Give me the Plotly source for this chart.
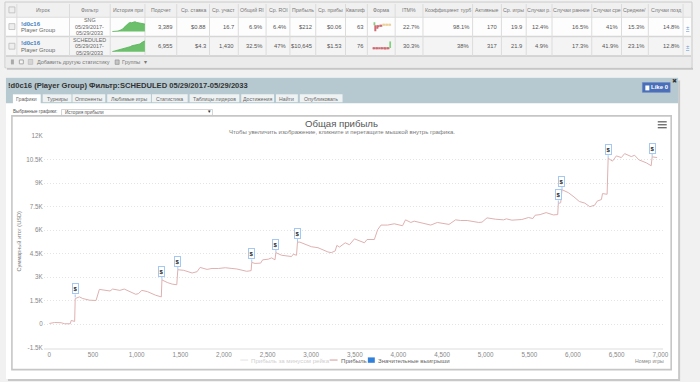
import plotly.graph_objects as go

# ---------- data ----------
games = [0,60,135,175,240,250,290,296,345,383,460,535,573,650,695,725,782,808,858,934,990,1020,1060,1124,1218,1283,1290,1350,1408,1460,1472,1540,1636,1693,1727,1807,1864,1940,2016,2092,2148,2262,2312,2319,2357,2421,2444,2509,2547,2585,2596,2660,2775,2794,2832,2843,2870,3002,3078,3192,3230,3275,3294,3325,3390,3439,3496,3610,3640,3724,3762,3800,3876,3952,4047,4081,4142,4180,4332,4370,4446,4579,4655,4712,4787,4920,4958,5015,5110,5205,5236,5300,5414,5490,5540,5566,5623,5692,5775,5825,5832,5859,5874,5946,6011,6072,6136,6193,6250,6277,6326,6338,6391,6403,6452,6497,6554,6592,6668,6706,6755,6839,6896,6907,6964]
profit = [40,100,85,20,20,230,170,1630,1735,1630,1525,1505,2215,2170,2110,2235,2195,2150,2235,2050,1900,1945,2150,2070,1840,1735,2820,2655,2550,2510,3470,3430,3260,3345,3615,3490,3550,3550,3595,3550,3515,3368,3410,3933,3870,3891,4100,4142,4226,4100,4560,4393,4310,4456,4393,5230,5230,4937,4874,4602,4560,4665,5020,4916,5188,5062,5439,5188,5397,5397,6025,6318,6318,6400,6276,6652,6485,6569,6401,6318,6485,6360,6652,6611,6610,6485,6506,6778,6694,6652,6715,6631,6673,6799,6736,6945,6987,7113,6966,6987,7698,7740,8577,8389,8117,7824,7719,7489,7594,7845,7950,8326,8284,10585,10397,10732,10627,10878,10690,10773,10481,10293,10104,10669,10627]
flag_games = [296,1290,1472,2319,2596,2843,5832,5874,6403,6907]
flag_profit = [1700,2820,3470,3933,4560,5230,7698,8577,10585,10669]
flag_label = "$"
y_ticks = [-1500,0,1500,3000,4500,6000,7500,9000,10500,12000]
y_labels = ["-1.5K","0","1.5K","3K","4.5K","6K","7.5K","9K","10.5K","12K"]
x_ticks = [0,500,1000,1500,2000,2500,3000,3500,4000,4500,5000,5500,6000,6500,7000]

columns = ["Игрок","Фильтр","История при","Подсчет","Ср. ставка","Ср. участ","Общий RI","Ср. ROI","Прибыль","Ср. прибы","Квалиф","Форма","ITM%","Коэффициент турб","Активные","Ср. игры","Случаи р.","Случаи ранние","Случаи сре","Средние/","Случаи позд"]
col_edges = [17,70,111,146,178,211,240,268,292,318,348,370,398,426,476,505,530,556,596,626,653,688]
row_filter = [["SNG","05/29/2017-","05/29/2033"],["SCHEDULED","05/29/2017-","05/29/2033"]]
row_values = [
    ["3,389","$0.88","16.7","6.9%","6.4%","$212","$0.06","63","","22.7%","98.1%","170","19.9","12.4%","16.5%","41%","15.3%","14.8%"],
    ["6,955","$4.3","1,430","32.5%","47%","$10,645","$1.53","76","","30.3%","38%","317","21.9","4.9%","17.3%","41.9%","23.1%","12.8%"],
]
spark1 = [0,0,0,1,2,3,5,9,13,17,20,22,21,23,24,22,21,20,19,19,18]
spark2 = [0,1,1,2,3,4,6,7,8,9,10,11,13,14,14,16,17,17,20,22,24]
form1 = [4,-9,-5,-3,-1,-1,1,1,1,1,1,1]
form1_colors = ["#7fd07f","#cf6a72","#cf6a72","#cf6a72","#cf6a72","#cf6a72","#ecd09a","#ecd09a","#ecd09a","#ecd09a","#ecd09a","#ecd09a"]
form2 = [-1,-1,-1,-1,-1,-1,-1,-1,-2,-1,-1,10]
form2_colors = ["#cf6a72"]*11 + ["#7fd07f"]
tabs = ["Графики","Турниры","Оппоненты","Любимые игры","Статистика","Таблицы лидеров","Достижения","Найти","Опубликовать"]
tab_edges = [(13,41),(43,72),(73,106),(108,152),(153,189),(191,241),(243,276),(278,300),(302,345)]

W, H = 700, 382
FONT = "Liberation Sans"
px = lambda v: v / W
py = lambda v: 1 - v / H

shapes, ann = [], []

def rect(x0, y0, x1, y1, fill, line=None, lw=1, layer="below"):
    shapes.append(dict(type="rect", xref="paper", yref="paper", x0=px(x0), x1=px(x1), y0=py(y1), y1=py(y0),
                       fillcolor=fill, line=dict(color=line or "rgba(0,0,0,0)", width=lw if line else 0), layer=layer))

def seg(x0, y0, x1, y1, color, lw=1, layer="below"):
    shapes.append(dict(type="line", xref="paper", yref="paper", x0=px(x0), x1=px(x1), y0=py(y0), y1=py(y1),
                       line=dict(color=color, width=lw), layer=layer))

def label(x, y, s, size=6, color="#555555", anchor="center", bold=False, **kw):
    ann.append(dict(xref="paper", yref="paper", x=px(x), y=py(y), text=f"<b>{s}</b>" if bold else s, showarrow=False,
                    xanchor=anchor, yanchor="middle", font=dict(size=size, color=color, family=FONT),
                    borderpad=0, **kw))

# ---------- top table ----------
rect(7, 65, 698, 67, "#c4c4c4")
rect(5, -2, 697, 65, "#f0f0f0", "#cccccc")
rect(6, 13.5, 696, 33, "#fdfdfd")
rect(6, 33, 696, 53, "#f4f4f4")
rect(6, 53, 696, 65, "#ebebeb")
seg(6, 13.5, 696, 13.5, "#dddddd")
seg(6, 33, 696, 33, "#d6d6d6", 1.5)
seg(6, 53, 696, 53, "#cccccc", 1.5)
for e in col_edges:
    seg(e, 0, e, 53, "#dcdcdc")
for i, c in enumerate(columns):
    label((col_edges[i] + col_edges[i + 1]) / 2, 6.5, c, 5.2, "#777777")
for cy in (6, 23, 43):
    rect(9, cy - 3, 15, cy + 3, "#eeeeee", "#bbbbbb", 0.8)
for r, cy in enumerate((23, 43)):
    label(20, cy - 3, "!d0c16", 6, "#4a80bd", "left", True)
    label(20, cy + 3.5, "Player Group", 5.8, "#666666", "left")
    for k, line_txt in enumerate(row_filter[r]):
        label(90.5, cy - 6.7 + k * 6.7, line_txt, 5.4, "#666666")
    for i, v in enumerate(row_values[r]):
        if v:
            label(col_edges[i + 4] - 3, cy, v, 5.8, "#555555", "right")
    label(692.5, cy + 1, "<u>±</u>", 6, "#6d9ad4")
rect(11, 56.5, 14, 61.5, "#aaaaaa")
rect(19.5, 57, 23.5, 61, "#f5f5f5", "#aaaaaa", 1)
rect(28.5, 56.5, 33, 61.5, "#d5d5d5", "#b5b5b5", 0.6)
label(36, 59.3, "Добавить другую статистику", 5.5, "#777777", "left")
rect(116, 57, 120, 61.5, "#c5c5c5", "#888888", 0.6)
label(122, 59.3, "Группы", 5.5, "#777777", "left")
label(144, 59, "▾", 5.5, "#777777", "left")

# ---------- panel ----------
rect(8, 78, 685, 384, "#c8c8c8")
rect(6, 75, 683, 382, "#ffffff")
rect(6, 75, 683, 101, "#b6c9d0")
label(7.5, 83, "!d0c16 (Player Group) Фильтр:SCHEDULED 05/29/2017-05/29/2033", 7.6, "#333333", "left", True)
for (a, b), t in zip(tab_edges, tabs):
    active = t == "Графики"
    rect(a, 92, b, 102 if active else 100, "#ffffff" if active else "#eef2f3", None)
    label((a + b) / 2, 96.5, t, 5.2, "#666666")
rect(647, 80, 675, 90, "#4a6fb8", "#6384c4", 0.5)
rect(650, 83, 654, 88, "#ffffff")
label(664.5, 85, "Like 0", 6, "#ffffff", bold=True)
label(679.3, 78.2, "✖", 5.5, "#333333")
label(12, 110, "Выбранные графики:", 4.5, "#555555", "left")
rect(62, 107.5, 214, 113.5, "#ffffff", "#b5b5b5", 0.6)
label(64, 110.5, "История прибыли", 4.7, "#555555", "left")
label(210.5, 110, "▼", 4.5, "#333333")
rect(12, 114, 676, 372.5, "#ffffff", "#c6c6c6", 1.6)
label(344, 122, "Общая прибыль", 9.6, "#555555")
label(344, 130.2, "Чтобы увеличить изображение, кликните и перетащите мышкой внутрь графика.", 6, "#777777")
for my in (120, 123, 126):
    seg(662.5, my, 671.5, my, "#666666", 1.3)
label(19, 242, "Суммарный итог (USD)", 5.6, "#777777", textangle=-90)
label(654, 364, "Номер игры", 5.2, "#888888")
# legend
seg(242, 362.7, 250, 362.7, "#e2e2e2", 1)
label(252, 362.7, "Прибыль за минусом рейка", 6.1, "#d0d0d0", "left")
seg(332, 362.7, 340, 362.7, "#dca9a9", 1.2)
label(342, 362.7, "Прибыль", 6.1, "#666666", "left")
rect(370.5, 360, 377.5, 365.5, "#3180da")
label(380, 362.7, "Значительные выигрыши", 6.1, "#666666", "left")

fig = go.Figure()
fig.add_trace(go.Scatter(x=games, y=profit, mode="lines", name="Прибыль", showlegend=False,
                         line=dict(color="#dfb0b0", width=1), hoverinfo="skip"))
fig.add_trace(go.Scatter(x=flag_games, y=flag_profit, mode="none", name="Значительные выигрыши", showlegend=False))
for fx, fy in zip(flag_games, flag_profit):
    ann.append(dict(x=fx, y=fy, xref="x", yref="y", text=f"<b>{flag_label}</b>", showarrow=True, arrowhead=0,
                    arrowwidth=1, arrowcolor="#a9c6ea", ax=0, ay=-3, width=5, height=9, borderpad=0,
                    bgcolor="#ffffff", bordercolor="#a5c8f2", borderwidth=1, standoff=0,
                    font=dict(size=6, color="#222222", family=FONT), xanchor="center", yanchor="bottom"))

mini = dict(visible=False, fixedrange=True)
def subplot(n, trace, x0, x1, y0, y1, yrange):
    trace.update(xaxis=f"x{n}", yaxis=f"y{n}", showlegend=False, hoverinfo="skip")
    fig.add_trace(trace)
    fig.update_layout({f"xaxis{n}": dict(domain=[px(x0), px(x1)], anchor=f"y{n}", **mini),
                       f"yaxis{n}": dict(domain=[py(y1), py(y0)], anchor=f"x{n}", range=yrange, **mini)})

subplot(2, go.Scatter(y=spark1, mode="lines", fill="tozeroy", fillcolor="#6cc06c", line=dict(color="#55ae55", width=0.8)), 113, 146, 17.5, 28.5, [-1, 25])
subplot(3, go.Scatter(y=spark2, mode="lines", fill="tozeroy", fillcolor="#6cc06c", line=dict(color="#55ae55", width=0.8)), 113, 146, 37, 49, [-1, 25])
subplot(4, go.Bar(y=form1, marker=dict(color=form1_colors, line=dict(width=0))), 376, 394, 18, 28, [-9, 5])
subplot(5, go.Bar(y=form2, marker=dict(color=form2_colors, line=dict(width=0))), 375, 394, 38, 47, [-3, 10])

fig.update_layout(
    width=W, height=H, autosize=False, margin=dict(l=0, r=0, t=0, b=0), showlegend=False,
    paper_bgcolor="#f1f1f1", plot_bgcolor="rgba(0,0,0,0)", shapes=shapes, annotations=ann,
    font=dict(family=FONT),
    xaxis=dict(domain=[px(44), px(668)], range=[-65, 7034], tickvals=x_ticks, tickformat=",", showgrid=False, zeroline=False,
               showline=True, linecolor="#eeeeee", linewidth=2, ticks="", tickfont=dict(size=6.3, color="#888888"),
               anchor="y"),
    yaxis=dict(domain=[py(350), py(134.5)], range=[-1500, 12000], tickvals=y_ticks, ticktext=y_labels, showgrid=True,
               gridcolor="#e4e4e4", griddash="1px,2px", gridwidth=1, zeroline=False, ticks="", showline=False,
               tickfont=dict(size=6.3, color="#888888"), anchor="x"),
)
fig.write_html("out.html", config=dict(displayModeBar=False),
               post_script="document.body.style.margin='0';document.body.style.overflow='hidden';")
